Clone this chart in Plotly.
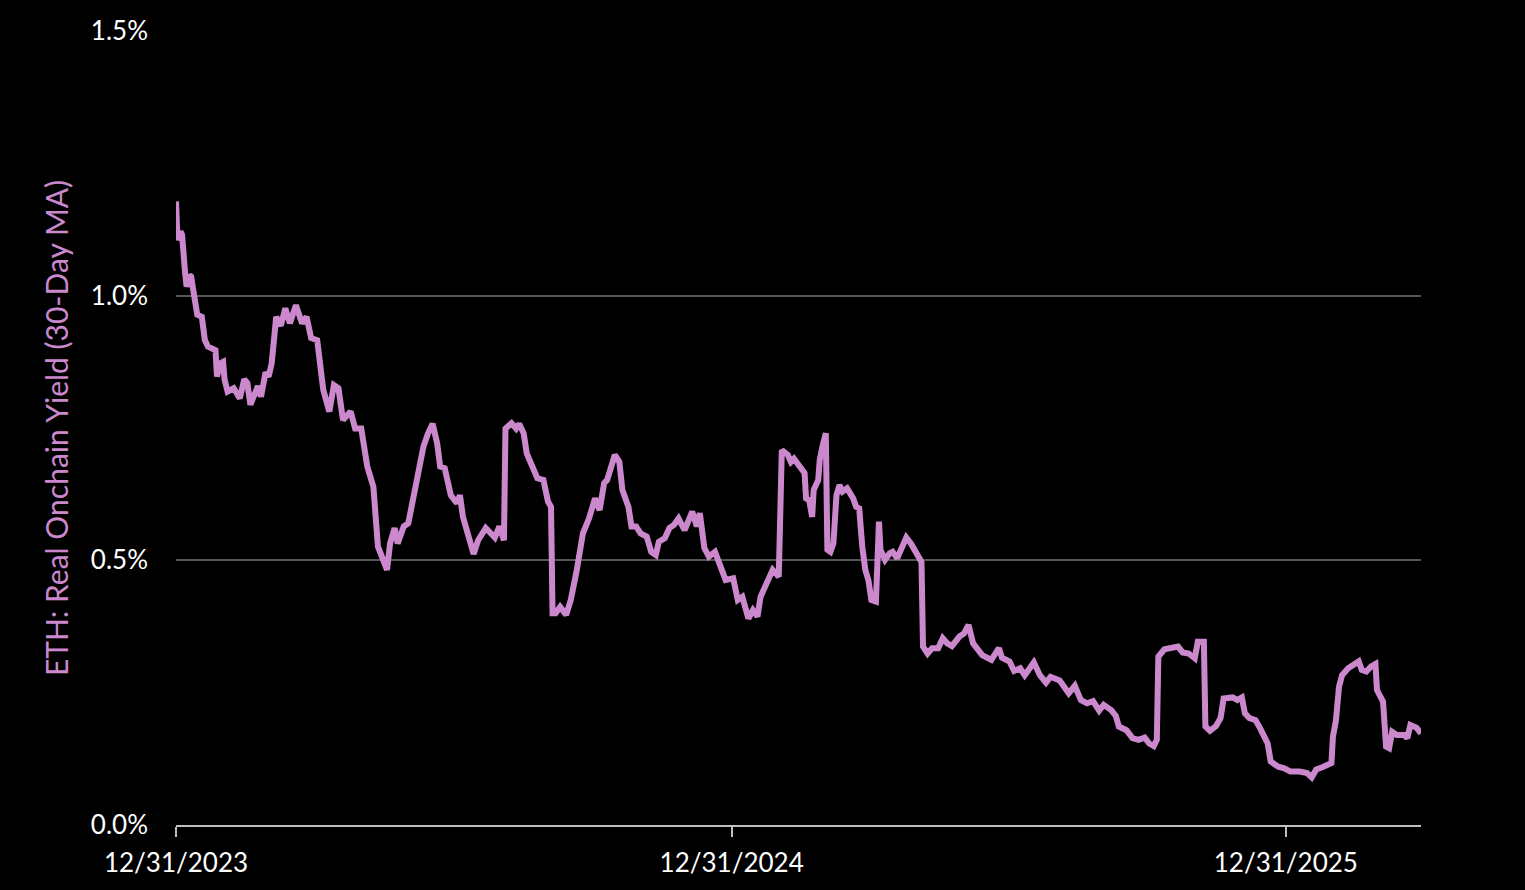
import pandas as pd
import plotly.graph_objects as go

# Day offsets from 12/31/2023 and yield values (%)
day_offsets = [0, 1, 3, 4, 6, 7, 9, 10, 11, 14, 17, 19, 21, 26, 27, 29, 31, 32, 34, 38,
               42, 45, 47, 49, 54, 56, 59, 61, 63, 66, 69, 72, 75, 79, 83, 86, 89, 93, 97, 101,
               104, 107, 110, 115, 118, 122, 126, 130, 133, 136, 139, 141, 144, 146, 150, 153, 156, 160, 163, 166,
               169, 172, 174, 177, 181, 185, 187, 189, 192, 196, 199, 204, 210, 213, 216, 217, 221, 224, 226, 229,
               231, 235, 238, 242, 245, 247, 248, 250, 253, 257, 260, 264, 268, 272, 276, 279, 282, 284, 289, 292,
               294, 298, 300, 303, 306, 310, 313, 316, 318, 322, 325, 328, 331, 335, 338, 340, 343, 345, 348, 351,
               355, 359, 362, 367, 370, 373, 377, 380, 383, 385, 390, 393, 397, 399, 403, 405, 407, 411, 414, 415,
               417, 419, 420, 423, 424, 426, 428, 429, 431, 433, 435, 437, 439, 442, 446, 448, 450, 452, 454, 456,
               458, 461, 463, 464, 467, 470, 472, 475, 479, 481, 484, 487, 491, 492, 495, 498, 502, 505, 508, 511,
               516, 519, 522, 525, 528, 531, 537, 542, 544, 549, 552, 556, 559, 565, 569, 573, 576, 582, 588, 592,
               596, 600, 604, 608, 611, 616, 619, 621, 626, 630, 634, 638, 641, 644, 646, 647, 651, 655, 660, 663,
               667, 671, 673, 677, 678, 681, 685, 688, 690, 696, 699, 702, 704, 707, 711, 714, 717, 719, 721, 726,
               730, 734, 740, 745, 748, 751, 755, 761, 762, 764, 766, 768, 772, 776, 779, 781, 784, 787, 790, 791,
               795, 797, 799, 801, 804, 809, 811, 813, 817, 820]

yield_pct = [1.178, 1.105, 1.121, 1.115, 1.043, 1.017, 1.039, 1.036, 1.017, 0.964, 0.960, 0.916, 0.904, 0.897, 0.847, 0.872, 0.875, 0.841, 0.819, 0.825,
             0.806, 0.842, 0.835, 0.794, 0.829, 0.809, 0.855, 0.847, 0.872, 0.960, 0.943, 0.976, 0.948, 0.982, 0.948, 0.960, 0.920, 0.916, 0.822, 0.781,
             0.831, 0.825, 0.765, 0.781, 0.749, 0.749, 0.677, 0.639, 0.526, 0.501, 0.482, 0.532, 0.561, 0.532, 0.564, 0.570, 0.614, 0.664, 0.715, 0.740,
             0.758, 0.721, 0.677, 0.674, 0.623, 0.608, 0.623, 0.582, 0.551, 0.512, 0.538, 0.561, 0.543, 0.564, 0.538, 0.749, 0.759, 0.749, 0.758, 0.740,
             0.702, 0.677, 0.655, 0.652, 0.611, 0.601, 0.400, 0.400, 0.412, 0.397, 0.425, 0.482, 0.551, 0.579, 0.617, 0.595, 0.646, 0.652, 0.699, 0.686,
             0.633, 0.601, 0.564, 0.564, 0.551, 0.545, 0.516, 0.510, 0.535, 0.542, 0.561, 0.567, 0.579, 0.557, 0.582, 0.592, 0.564, 0.589, 0.523, 0.507,
             0.516, 0.488, 0.463, 0.466, 0.425, 0.431, 0.390, 0.406, 0.394, 0.431, 0.466, 0.482, 0.469, 0.708, 0.699, 0.686, 0.692, 0.675, 0.665, 0.617,
             0.614, 0.582, 0.633, 0.652, 0.690, 0.718, 0.740, 0.520, 0.516, 0.532, 0.623, 0.642, 0.630, 0.636, 0.617, 0.601, 0.598, 0.526, 0.482, 0.463,
             0.425, 0.422, 0.573, 0.520, 0.501, 0.513, 0.516, 0.504, 0.532, 0.543, 0.532, 0.516, 0.497, 0.337, 0.324, 0.334, 0.334, 0.353, 0.343, 0.338,
             0.356, 0.362, 0.378, 0.343, 0.332, 0.321, 0.312, 0.334, 0.316, 0.309, 0.291, 0.296, 0.283, 0.307, 0.283, 0.269, 0.280, 0.273, 0.249, 0.263,
             0.236, 0.230, 0.234, 0.216, 0.227, 0.217, 0.206, 0.186, 0.179, 0.164, 0.161, 0.165, 0.154, 0.149, 0.161, 0.318, 0.332, 0.335, 0.337, 0.326,
             0.324, 0.315, 0.346, 0.346, 0.186, 0.178, 0.187, 0.202, 0.239, 0.241, 0.236, 0.241, 0.211, 0.202, 0.198, 0.183, 0.164, 0.154, 0.120, 0.110,
             0.107, 0.101, 0.101, 0.098, 0.090, 0.105, 0.109, 0.117, 0.167, 0.198, 0.261, 0.283, 0.296, 0.302, 0.309, 0.293, 0.290, 0.299, 0.304, 0.255,
             0.233, 0.148, 0.145, 0.176, 0.170, 0.170, 0.164, 0.189, 0.184, 0.173]

tick_dates = ["2023-12-31", "2024-12-31", "2025-12-31"]
tick_labels = ["12/31/2023", "12/31/2024", "12/31/2025"]
y_ticks = [0.0, 0.5, 1.0, 1.5]
y_tick_labels = ["0.0%", "0.5%", "1.0%", "1.5%"]

start = pd.Timestamp("2023-12-31")
dates = start + pd.to_timedelta(day_offsets, unit="D")

LINE = "#cc88cc"
FONT = "Lato, 'Open Sans', sans-serif"

fig = go.Figure()
fig.add_trace(go.Scatter(x=dates, y=yield_pct, mode="lines",
                         line=dict(color=LINE, width=6), showlegend=False))

fig.update_layout(
    width=1525, height=890,
    paper_bgcolor="black", plot_bgcolor="black",
    margin=dict(l=176, r=104, t=31, b=65),
    font=dict(family=FONT, color="white", size=26),
    xaxis=dict(
        range=["2023-12-31", "2026-03-30"],
        tickvals=tick_dates, ticktext=tick_labels,
        showgrid=False, zeroline=False,
        showline=True, linecolor="#bfbfbf", linewidth=2,
        ticks="outside", ticklen=10, tickwidth=2, tickcolor="#bfbfbf",
        tickfont=dict(size=26, color="white"),
        ticklabelstandoff=4,
    ),
    yaxis=dict(
        range=[0, 1.5],
        tickvals=y_ticks, ticktext=y_tick_labels,
        showgrid=True, gridcolor="#555555", gridwidth=2,
        zeroline=False, showline=False,
        tickfont=dict(size=26, color="white"),
        ticklabelstandoff=27,
        title=dict(text="ETH: Real Onchain Yield (30-Day MA)",
                   font=dict(size=30, color=LINE), standoff=13),
    ),
)

fig.write_html("out.html",
               config={"displayModeBar": False},
               post_script="document.body.style.margin='0';document.body.style.background='black';")
